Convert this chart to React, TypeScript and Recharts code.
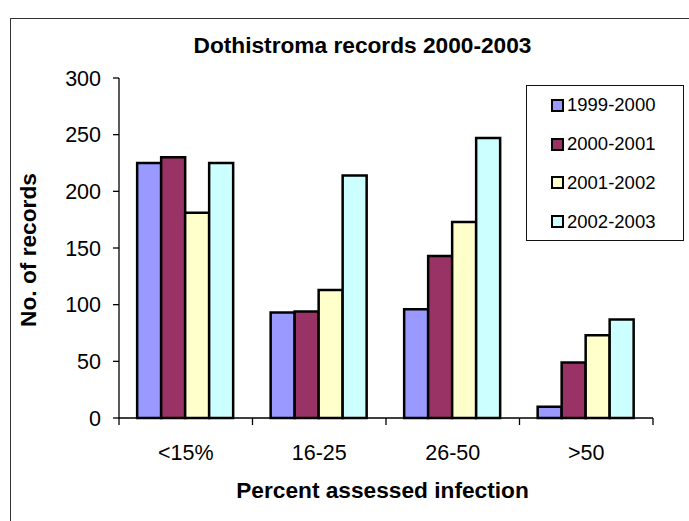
import { Bar, BarChart, Legend, XAxis, YAxis } from "recharts";

const categories = ["<15%", "16-25", "26-50", ">50"];
const seasons = ["1999-2000", "2000-2001", "2001-2002", "2002-2003"];
const records1999 = [225, 93, 96, 10];
const records2000 = [230, 94, 143, 49];
const records2001 = [181, 113, 173, 73];
const records2002 = [225, 214, 247, 87];
const yTicks = [0, 50, 100, 150, 200, 250, 300];

const colors = ["#9999FF", "#993366", "#FFFFCC", "#CCFFFF"];
const font = "Arial, 'Liberation Sans', sans-serif";

const data = categories.map((cat, i) => ({
  cat,
  [seasons[0]]: records1999[i],
  [seasons[1]]: records2000[i],
  [seasons[2]]: records2001[i],
  [seasons[3]]: records2002[i],
}));

// Excel puts the category ticks between the groups, so draw them at the band edges.
function CategoryTick(props: any) {
  const { x, y, payload, index } = props;
  const half = payload?.offset ?? 0;
  const last = index === categories.length - 1;
  return (
    <g>
      <line x1={x - half} x2={x - half} y1={y} y2={y + 7} stroke="#000" strokeWidth={1.3} />
      {last && <line x1={x + half} x2={x + half} y1={y} y2={y + 7} stroke="#000" strokeWidth={1.3} />}
      <text x={x} y={y + 42} textAnchor="middle" fill="#000" fontSize={21.5} fontFamily={font}>
        {payload.value}
      </text>
    </g>
  );
}

function LegendBox() {
  return (
    <div
      style={{
        width: 158,
        height: 156,
        border: "1.3px solid #111",
        background: "#fff",
        fontFamily: font,
        fontSize: 18.5,
        color: "#000",
        boxSizing: "border-box",
      }}
    >
      {seasons.map((s, i) => (
        <div
          key={s}
          style={{ display: "flex", alignItems: "center", height: 38.8, paddingLeft: 24 }}
        >
          <span
            style={{
              display: "inline-block",
              width: 9,
              height: 9,
              border: "2px solid #000",
              background: colors[i],
              marginRight: 3,
              boxSizing: "content-box",
            }}
          />
          <span>{s}</span>
        </div>
      ))}
    </div>
  );
}

export default function App() {
  return (
    <div
      style={{
        position: "absolute",
        left: 0,
        top: 0,
        width: 689,
        height: 521,
        overflow: "hidden",
        background: "#fff",
        fontFamily: font,
      }}
    >
      {/* chart frame, runs off the right and bottom of the picture */}
      <div
        style={{
          position: "absolute",
          left: 10,
          top: 18,
          width: 700,
          height: 520,
          borderLeft: "1.5px solid #333",
          borderTop: "1.5px solid #333",
        }}
      />
      <BarChart
        width={689}
        height={521}
        data={data}
        margin={{ top: 78, right: 36, bottom: 53, left: 39 }}
        barCategoryGap="13.6%"
        barGap={0}
        style={{ position: "absolute", left: 0, top: 0 }}
      >
        <XAxis
          dataKey="cat"
          height={50}
          stroke="#000"
          axisLine={{ stroke: "#000", strokeWidth: 1.3 }}
          tickLine={false}
          tickSize={0}
          tickMargin={0}
          interval={0}
          tick={<CategoryTick />}
        />
        <YAxis
          width={80}
          domain={[0, 300]}
          ticks={yTicks}
          interval={0}
          tickSize={6}
          tickMargin={12}
          stroke="#000"
          axisLine={{ stroke: "#000", strokeWidth: 1.3 }}
          tickLine={{ stroke: "#000", strokeWidth: 1.3 }}
          tick={{ fill: "#000", fontSize: 21.5, fontFamily: font }}
        />
        <Legend
          layout="horizontal"
          verticalAlign="middle"
          align="center"
          content={() => <LegendBox />}
          wrapperStyle={{ left: 526, top: 85, width: 158, height: 156 }}
        />
        {seasons.map((s, i) => (
          <Bar
            key={s}
            dataKey={s}
            fill={colors[i]}
            stroke="#000"
            strokeWidth={2.5}
            isAnimationActive={false}
          />
        ))}
      </BarChart>
      <div
        style={{
          position: "absolute",
          left: 0,
          width: 725,
          top: 31,
          textAlign: "center",
          fontWeight: "bold",
          fontSize: 22.7,
          lineHeight: "28px",
        }}
      >
        Dothistroma records 2000-2003
      </div>
      <div
        style={{
          position: "absolute",
          left: 0,
          width: 765,
          top: 476,
          textAlign: "center",
          fontWeight: "bold",
          fontSize: 22.7,
          lineHeight: "28px",
        }}
      >
        Percent assessed infection
      </div>
      <div
        style={{
          position: "absolute",
          left: 28 - 100,
          top: 250 - 14,
          width: 200,
          textAlign: "center",
          fontWeight: "bold",
          fontSize: 22.7,
          lineHeight: "28px",
          transform: "rotate(-90deg)",
        }}
      >
        No. of records
      </div>
    </div>
  );
}
